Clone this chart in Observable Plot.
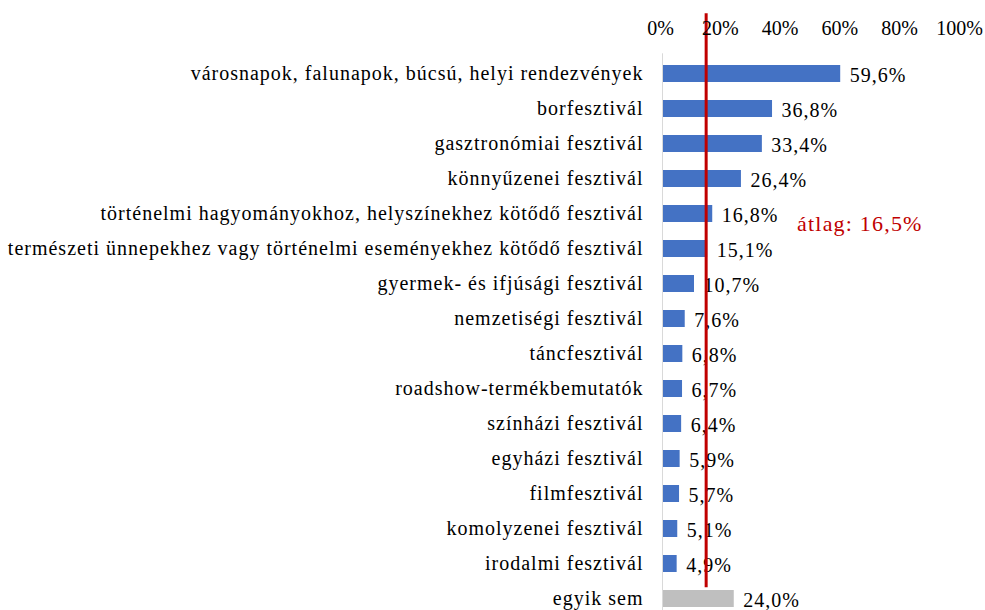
<!DOCTYPE html>
<html>
<head>
<meta charset="utf-8">
<script src="https://cdn.jsdelivr.net/npm/d3@7"></script>
<script src="https://cdn.jsdelivr.net/npm/@observablehq/plot@0.6"></script>
<style>
  html, body { margin: 0; padding: 0; background: #fff; overflow: hidden; }
  #chart svg { display: block; letter-spacing: 1px; }
  #chart svg, #chart svg text, #chart svg g { font-family: "Liberation Serif", "Times New Roman", "DejaVu Serif", serif !important; }
  #chart svg g.avg-label { letter-spacing: 1.2px; }
  #chart svg g.xtick-label { letter-spacing: 0px; }
</style>
</head>
<body>
<div id="chart"></div>
<script>
const categories = [
  "városnapok, falunapok, búcsú, helyi rendezvények",
  "borfesztivál",
  "gasztronómiai fesztivál",
  "könnyűzenei fesztivál",
  "történelmi hagyományokhoz, helyszínekhez kötődő fesztivál",
  "természeti ünnepekhez vagy történelmi eseményekhez kötődő fesztivál",
  "gyermek- és ifjúsági fesztivál",
  "nemzetiségi fesztivál",
  "táncfesztivál",
  "roadshow-termékbemutatók",
  "színházi fesztivál",
  "egyházi fesztivál",
  "filmfesztivál",
  "komolyzenei fesztivál",
  "irodalmi fesztivál",
  "egyik sem"
];
const values = [59.6, 36.8, 33.4, 26.4, 16.8, 15.1, 10.7, 7.6, 6.8, 6.7, 6.4, 5.9, 5.7, 5.1, 4.9, 24.0];
const xTicks = [0, 20, 40, 60, 80, 100];
const avgLabel = "átlag: 16,5%";
const avgLinePos = 14.6;      // where the red line is drawn in the picture
const avgLabelPos = 45;       // x position of the red label
const avgLabelRow = "történelmi hagyományokhoz, helyszínekhez kötődő fesztivál";

const data = categories.map((c, i) => ({
  cat: c,
  v: values[i],
  none: c === "egyik sem"
}));
const fmt = v => v.toFixed(1).replace(".", ",") + "%";

const H = 640;
const chart = Plot.plot({
  width: 985,
  height: H,
  marginLeft: 662,
  marginRight: 24,
  marginTop: 53.3,
  marginBottom: H - 619.2,
  style: { fontSize: "20px", color: "#000", background: "#fff" },
  x: { domain: [0, 100] },
  y: { domain: categories, paddingInner: 0.52, paddingOuter: 0.26 },
  marks: [
    Plot.barX(data, {
      x: "v", y: "cat",
      fill: d => d.none ? "#bfbfbf" : "#4472c4"
    }),
    Plot.ruleX([0], { stroke: "#d9d9d9", strokeWidth: 1 }),
    Plot.text(data, {
      x: "v", y: "cat", text: d => fmt(d.v),
      dx: 9, dy: 2, textAnchor: "start", fill: "#000", fontSize: 20
    }),
    Plot.ruleX([avgLinePos], { stroke: "#c00000", strokeWidth: 3, insetTop: -40, insetBottom: 32 }),
    Plot.text([avgLabel], {
      x: avgLabelPos, y: () => avgLabelRow, text: d => d,
      dy: 10, textAnchor: "start", fill: "#c00000", fontSize: 22
    }),
    Plot.axisX({
      anchor: "top", ticks: xTicks, tickFormat: d => d + "%",
      tickSize: 0, tickPadding: 19, fontSize: 20, dx: -2, label: null
    }),
    Plot.axisY({
      tickSize: 0, tickPadding: 19, fontSize: 20, label: null
    })
  ]
});
d3.select(chart).selectAll("g[aria-label='text']").filter(function () {
  return d3.select(this).attr("fill") === "#c00000";
}).classed("avg-label", true);
d3.select(chart).selectAll("g[aria-label='x-axis tick label']").classed("xtick-label", true);
document.getElementById("chart").appendChild(chart);
</script>
</body>
</html>
